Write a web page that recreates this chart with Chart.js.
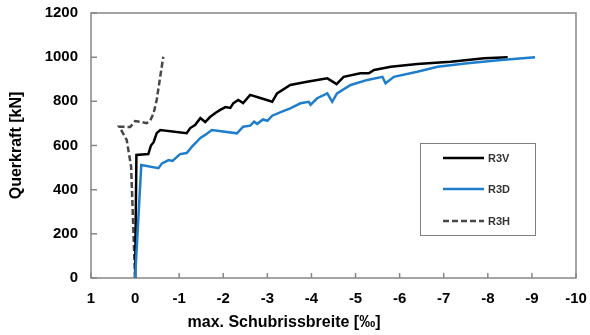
<!DOCTYPE html>
<html>
<head>
<meta charset="utf-8">
<script src="https://cdn.jsdelivr.net/npm/chart.js@4.4.1/dist/chart.umd.min.js"></script>
<style>
  html, body { margin: 0; padding: 0; background: #fff; }
  #wrap { width: 590px; height: 335px; }
</style>
</head>
<body>
<div id="wrap"><canvas id="chart"></canvas></div>
<script>
// crack width [‰] (negative = opening) and shear force [kN]
const r3vWidth = [0, -0.03, -0.30, -0.36, -0.42, -0.49, -0.57, -1.17, -1.25, -1.36, -1.48, -1.59, -1.70, -1.82, -1.93, -2.05, -2.16, -2.23, -2.34, -2.45, -2.61, -2.84, -3.11, -3.22, -3.52, -3.90, -4.36, -4.57, -4.73, -5.11, -5.30, -5.42, -5.80, -6.40, -7.16, -7.92, -8.45];
const r3vForce = [0, 557, 561, 600, 615, 656, 670, 656, 679, 693, 724, 706, 729, 747, 761, 774, 770, 792, 806, 792, 829, 815, 798, 836, 874, 889, 904, 878, 911, 927, 927, 942, 957, 969, 979, 995, 1000];

const r3dWidth = [0, -0.14, -0.53, -0.61, -0.76, -0.85, -1.02, -1.17, -1.29, -1.40, -1.48, -1.59, -1.74, -2.31, -2.45, -2.61, -2.70, -2.77, -2.90, -3.00, -3.11, -3.33, -3.52, -3.75, -3.94, -3.98, -4.13, -4.36, -4.47, -4.58, -4.89, -5.27, -5.61, -5.68, -5.87, -6.40, -6.86, -7.54, -8.30, -9.07];
const r3dForce = [0, 512, 497, 519, 534, 530, 561, 566, 595, 617, 634, 648, 670, 655, 685, 690, 708, 698, 718, 712, 735, 753, 768, 791, 798, 785, 814, 836, 798, 836, 874, 897, 911, 882, 911, 934, 957, 972, 987, 1000];

const r3hWidth = [0, 0.09, 0.19, 0.34, 0.36, 0.11, 0.0, -0.15, -0.26, -0.34, -0.42, -0.49, -0.57, -0.64];
const r3hForce = [0, 504, 625, 679, 685, 684, 711, 706, 701, 711, 746, 806, 912, 1002];

const seriesNames = ["R3V", "R3D", "R3H"];
const xTicks = [1, 0, -1, -2, -3, -4, -5, -6, -7, -8, -9, -10];
const yTicks = [0, 200, 400, 600, 800, 1000, 1200];

const toPoints = (xs, ys) => xs.map((x, i) => ({ x: x, y: ys[i] }));

const axisGray = "#868686";

// frame, inward tick marks, x title and the boxed legend
const decorations = {
  id: "decorations",
  beforeDatasetsDraw(chart) {
    const { ctx, chartArea: a, scales } = chart;
    ctx.save();
    ctx.strokeStyle = axisGray;
    ctx.lineWidth = 1.5;
    ctx.strokeRect(a.left, a.top, a.right - a.left, a.bottom - a.top);
    ctx.beginPath();
    xTicks.forEach((v) => {
      const px = scales.x.getPixelForValue(v);
      ctx.moveTo(px, a.bottom);
      ctx.lineTo(px, a.bottom - 5);
    });
    yTicks.forEach((v) => {
      const py = scales.y.getPixelForValue(v);
      ctx.moveTo(a.left, py);
      ctx.lineTo(a.left + 6, py);
    });
    ctx.stroke();
    ctx.restore();
  },
  afterDatasetsDraw(chart) {
    const { ctx } = chart;
    ctx.save();
    ctx.fillStyle = "#000";
    ctx.font = "bold 16px 'Liberation Sans', Arial, sans-serif";
    ctx.textAlign = "center";
    ctx.textBaseline = "middle";
    ctx.fillText("max. Schubrissbreite [‰]", 284, 323);

    // legend box
    const bx = 420, by = 143, bw = 115, bh = 92;
    ctx.fillStyle = "#fff";
    ctx.fillRect(bx, by, bw, bh);
    ctx.strokeStyle = "#7f7f7f";
    ctx.lineWidth = 1;
    ctx.strokeRect(bx + 0.5, by + 0.5, bw, bh);
    const rows = [158, 189, 221];
    ctx.font = "bold 11px 'Liberation Sans', Arial, sans-serif";
    ctx.textAlign = "left";
    chart.data.datasets.forEach((ds, i) => {
      ctx.beginPath();
      ctx.strokeStyle = ds.borderColor;
      ctx.lineWidth = ds.borderWidth;
      ctx.setLineDash(ds.borderDash || []);
      ctx.moveTo(443, rows[i]);
      ctx.lineTo(484, rows[i]);
      ctx.stroke();
      ctx.setLineDash([]);
      ctx.fillStyle = "#333";
      ctx.fillText(ds.label, 488, rows[i] + 0.5);
    });
    ctx.restore();
  }
};

Chart.defaults.font.family = "'Liberation Sans', Arial, sans-serif";
Chart.defaults.font.weight = "bold";
Chart.defaults.color = "#000";

new Chart(document.getElementById("chart"), {
  type: "scatter",
  data: {
    datasets: [
      {
        label: seriesNames[0],
        data: toPoints(r3vWidth, r3vForce),
        showLine: true,
        borderColor: "#000000",
        borderWidth: 2.5,
        pointRadius: 0,
        order: 2
      },
      {
        label: seriesNames[1],
        data: toPoints(r3dWidth, r3dForce),
        showLine: true,
        borderColor: "#1f7ecb",
        borderWidth: 2.5,
        pointRadius: 0,
        order: 1
      },
      {
        label: seriesNames[2],
        data: toPoints(r3hWidth, r3hForce),
        showLine: true,
        borderColor: "#474747",
        borderWidth: 2.5,
        borderDash: [6, 3],
        pointRadius: 0,
        order: 3
      }
    ]
  },
  options: {
    responsive: true,
    maintainAspectRatio: false,
    animation: false,
    layout: { padding: { top: 13, right: 14, left: 0, bottom: 0 } },
    plugins: {
      legend: { display: false },
      tooltip: { enabled: false }
    },
    scales: {
      x: {
        type: "linear",
        min: -10,
        max: 1,
        reverse: true,
        afterFit: (scale) => {
          scale.height = 57;
          scale.paddingLeft = 0;
          scale.paddingRight = 0;
        },
        afterBuildTicks: (scale) => { scale.ticks = xTicks.map((v) => ({ value: v })); },
        grid: { display: false, drawTicks: false },
        border: { display: false },
        ticks: { padding: 12, font: { size: 15, weight: "bold" }, color: "#000", callback: (v) => String(v) }
      },
      y: {
        min: 0,
        max: 1200,
        afterFit: (scale) => {
          scale.width = 91;
          scale.paddingTop = 0;
          scale.paddingBottom = 0;
        },
        afterBuildTicks: (scale) => { scale.ticks = yTicks.map((v) => ({ value: v })); },
        grid: { display: false, drawTicks: false },
        border: { display: false },
        ticks: { padding: 13, font: { size: 15, weight: "bold" }, color: "#000", callback: (v) => String(v) },
        title: {
          display: true,
          text: "Querkraft [kN]",
          font: { size: 16, weight: "bold" },
          color: "#000",
          padding: { top: 7, bottom: 0 }
        }
      }
    }
  },
  plugins: [decorations]
});
</script>
</body>
</html>
